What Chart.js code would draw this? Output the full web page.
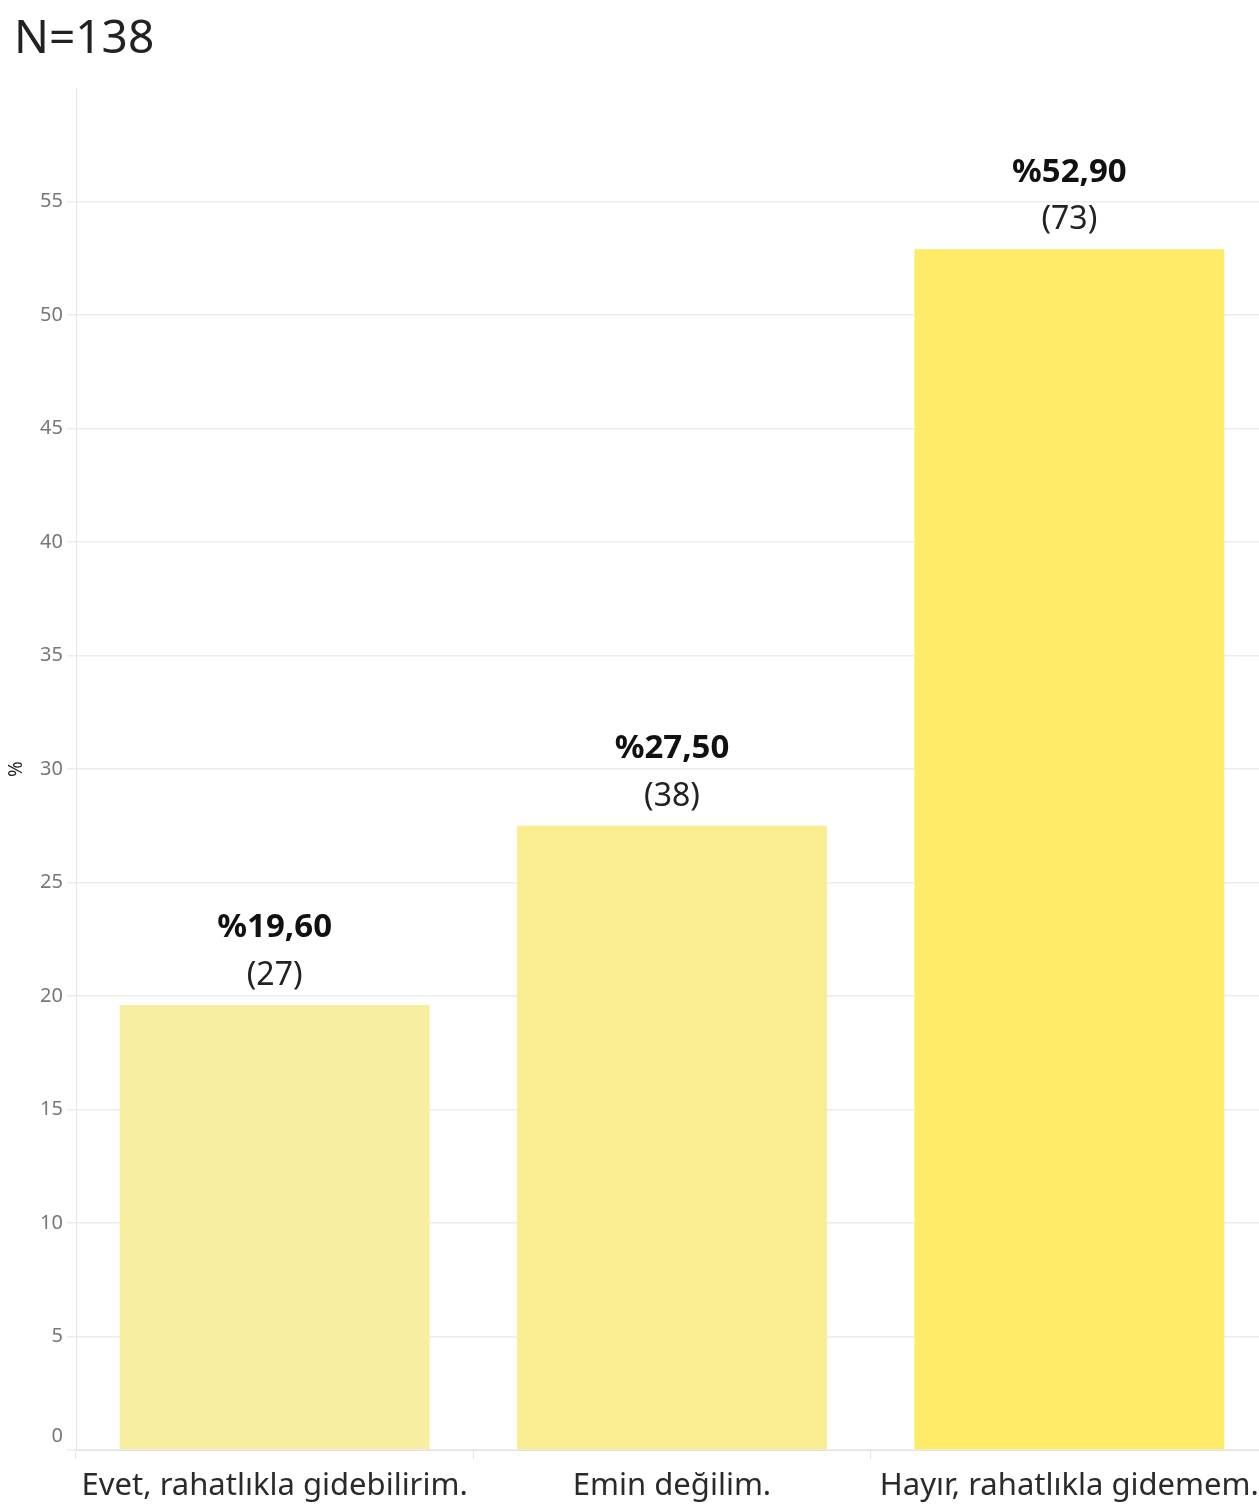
<!DOCTYPE html>
<html>
<head>
<meta charset="utf-8">
<script src="https://cdn.jsdelivr.net/npm/chart.js@4"></script>
<style>
  html, body { margin: 0; padding: 0; background: #fff; overflow: hidden; }
  #wrap { position: relative; width: 1268px; height: 1511px; }
</style>
</head>
<body>
<div id="wrap"><canvas id="myChart" width="1268" height="1511"></canvas></div>
<script>
const baslik = "N=138";
const kategoriler = ["Evet, rahatlıkla gidebilirim.", "Emin değilim.", "Hayır, rahatlıkla gidemem."];
const yuzdeler = [19.6, 27.5, 52.9];
const kisiSayisi = [27, 38, 73];
const renkler = ["#F7EEA2", "#F9EC91", "#FEEC68"];
const yTikler = [0, 5, 10, 15, 20, 25, 30, 35, 40, 45, 50, 55];

const fontAdi = "'Noto Sans', sans-serif";

// bar ustundeki yuzde ve kisi sayisi etiketleri
const etiketEklentisi = {
  id: "etiketler",
  afterDatasetsDraw(chart) {
    const ctx = chart.ctx;
    const meta = chart.getDatasetMeta(0);
    ctx.save();
    ctx.textAlign = "center";
    ctx.textBaseline = "middle";
    meta.data.forEach((bar, i) => {
      ctx.fillStyle = "#111";
      ctx.font = "bold 33px " + fontAdi;
      ctx.fillText("%" + yuzdeler[i].toFixed(2).replace(".", ","), bar.x, bar.y - 77);
      ctx.fillStyle = "#222";
      ctx.font = "32px " + fontAdi;
      ctx.fillText("(" + kisiSayisi[i] + ")", bar.x, bar.y - 29);
    });
    ctx.restore();
  },
};

// sol ustteki baslik, dikey eksen basligi ve eksenin ustune kaldirilan 0 etiketi
const baslikEklentisi = {
  id: "baslik",
  afterDraw(chart) {
    const ctx = chart.ctx;
    const y = chart.scales.y;
    ctx.save();
    ctx.fillStyle = "#777";
    ctx.font = "20px " + fontAdi;
    ctx.textAlign = "right";
    ctx.textBaseline = "middle";
    ctx.fillText("0", y.right - 13, y.getPixelForValue(0) - 14);

    ctx.fillStyle = "#222";
    ctx.font = "46px " + fontAdi;
    ctx.textAlign = "left";
    ctx.fillText(baslik, 14, 40);

    ctx.translate(17, (chart.chartArea.top + chart.chartArea.bottom) / 2);
    ctx.rotate(-Math.PI / 2);
    ctx.textAlign = "center";
    ctx.font = "19px " + fontAdi;
    ctx.fillText("%", 0, 0);
    ctx.restore();
  },
};

const ctx = document.getElementById("myChart").getContext("2d");
const myChart = new Chart(ctx, {
  type: "bar",
  data: {
    labels: kategoriler,
    datasets: [
      {
        data: yuzdeler,
        backgroundColor: renkler,
        barPercentage: 0.78,
        categoryPercentage: 1,
      },
    ],
  },
  options: {
    responsive: false,
    animation: false,
    devicePixelRatio: 1,
    layout: { padding: { top: 88, left: 0, right: 0, bottom: 0 } },
    plugins: {
      legend: { display: false },
      tooltip: { enabled: false },
    },
    scales: {
      x: {
        afterFit: (scale) => { scale.height = 61; },
        grid: {
          drawOnChartArea: false,
          drawTicks: true,
          tickLength: 9,
          color: "#e6e6e6",
        },
        border: { color: "#e3e3e3" },
        ticks: {
          padding: 9,
          color: "#2a2a2a",
          font: { family: fontAdi, size: 31 },
          maxRotation: 0,
        },
      },
      y: {
        min: 0,
        max: 60,
        afterFit: (scale) => { scale.width = 76; },
        afterBuildTicks: (scale) => {
          scale.ticks = yTikler.map((v) => ({ value: v })).concat([{ value: 60 }]);
        },
        grid: {
          color: (c) => (c.tick && c.tick.value === 60 ? "rgba(0,0,0,0)" : "#ececec"),
          tickLength: 9,
          lineWidth: 1.5,
        },
        border: { color: "#e6e6e6" },
        ticks: {
          padding: 4,
          color: "#777",
          font: { family: fontAdi, size: 20 },
          callback: (v) => (v === 60 || v === 0 ? "" : v),
        },
      },
    },
  },
  plugins: [etiketEklentisi, baslikEklentisi],
});
</script>
</body>
</html>
